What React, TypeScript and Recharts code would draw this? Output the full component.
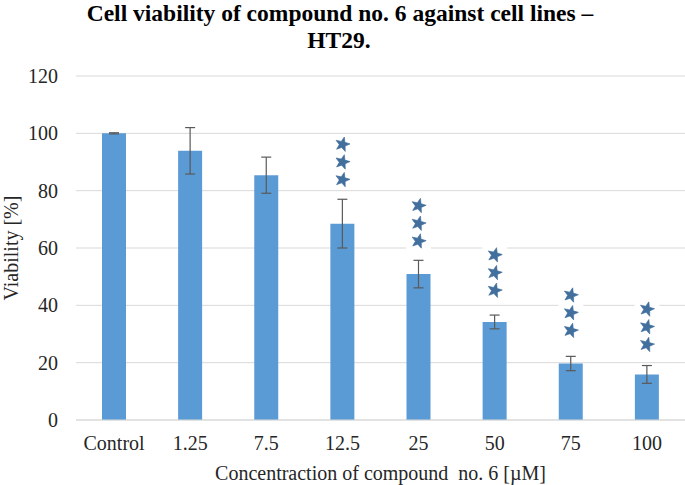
import React from 'react';
import { ComposedChart, Bar, ErrorBar, Scatter, XAxis, YAxis, CartesianGrid } from 'recharts';

const categories = ['Control', '1.25', '7.5', '12.5', '25', '50', '75', '100'];
const viability = [100, 93.9, 85.4, 68.5, 50.9, 34.2, 19.7, 15.9];
const sdErr = [0.2, 8.1, 6.3, 8.5, 4.8, 2.4, 2.5, 3.1];
// lowest star of the "***" marker, in % units
const sigLevel = [null, null, null, 83.8, 62.4, 45.2, 31.2, 26.3];

const yTicks = [0, 20, 40, 60, 80, 100, 120];

const data = categories.map((c, i) => ({
  name: c,
  value: viability[i],
  err: sdErr[i],
  sig: sigLevel[i],
}));

const FONT = '"Liberation Serif", "Times New Roman", serif';
const STAR_GAP = 17.7;

const starPoints = (cx: number, cy: number, ro: number, ri: number) => {
  const pts: string[] = [];
  for (let k = 0; k < 10; k++) {
    const r = k % 2 === 0 ? ro : ri;
    const a = -Math.PI / 2 + (k * Math.PI) / 5 + 0.25;
    pts.push(`${(cx + r * Math.cos(a)).toFixed(2)},${(cy + r * Math.sin(a)).toFixed(2)}`);
  }
  return pts.join(' ');
};

const Stars = (props: any) => {
  const { cx, cy, payload } = props;
  if (payload == null || payload.sig == null || cy == null || isNaN(cy)) return <g />;
  const ys = [cy, cy - STAR_GAP, cy - 2 * STAR_GAP];
  return (
    <g>
      <rect x={cx - 12.5} y={cy - 2 * STAR_GAP - 10} width={25} height={2 * STAR_GAP + 20} fill="#fff" />
      {ys.map((y, i) => (
        <polygon key={i} points={starPoints(cx, y, 7.6, 3.2)} fill="#41709f" stroke="#3b6795" strokeWidth={0.6} />
      ))}
    </g>
  );
};

export default function App() {
  return (
    <div style={{ position: 'absolute', left: 0, top: 0, width: 685, height: 485, background: '#fff' }}>
      <ComposedChart
        width={685}
        height={485}
        data={data}
        margin={{ top: 76, right: 0, bottom: 0, left: 0 }}
      >
        <text x={340} y={21} textAnchor="middle" fontFamily={FONT} fontWeight="bold" fontSize={23.5} fill="#000">
          Cell viability of compound no. 6 against cell lines –
        </text>
        <text x={339} y={48} textAnchor="middle" fontFamily={FONT} fontWeight="bold" fontSize={23.5} fill="#000">
          HT29.
        </text>
        <CartesianGrid vertical={false} stroke="#d9d9d9" strokeWidth={1} />
        <XAxis
          dataKey="name"
          height={65}
          axisLine={{ stroke: '#d9d9d9' }}
          tickLine={false}
          tickSize={0}
          tickMargin={16}
          tick={{ fontFamily: FONT, fontSize: 20, fill: '#262626' }}
          interval={0}
          label={{
            value: 'Concentraction of compound\u00a0 no. 6 [µM]',
            position: 'insideBottom',
            offset: 5,
            style: { fontFamily: FONT, fontSize: 20, fill: '#262626' },
          }}
        />
        <YAxis
          width={76}
          domain={[0, 120]}
          ticks={yTicks}
          axisLine={false}
          tickLine={false}
          tickSize={0}
          tickMargin={18}
          tick={{ fontFamily: FONT, fontSize: 20, fill: '#262626' }}
          label={{
            value: 'Viability [%]',
            angle: -90,
            position: 'insideLeft',
            offset: 11,
            style: { fontFamily: FONT, fontSize: 20, fill: '#262626', textAnchor: 'middle' },
          }}
        />
        <Bar dataKey="value" fill="#5b9bd5" barSize={24} isAnimationActive={false}>
          <ErrorBar dataKey="err" width={5} stroke="#595959" strokeWidth={1.2} direction="y" />
        </Bar>
        <Scatter dataKey="sig" shape={Stars} isAnimationActive={false} />
      </ComposedChart>
    </div>
  );
}
